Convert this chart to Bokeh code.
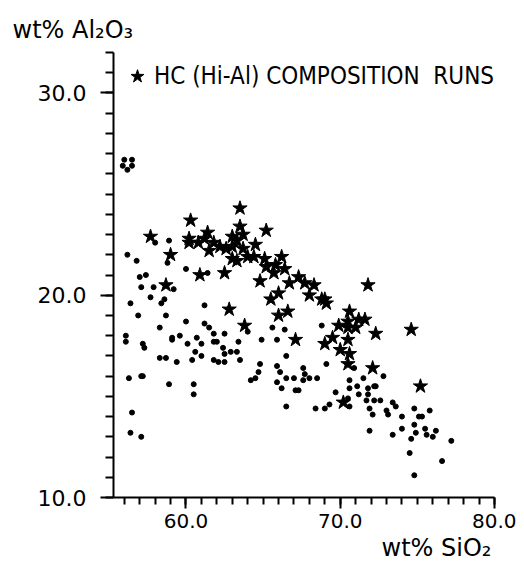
from bokeh.plotting import figure
from bokeh.models import FixedTicker, Range1d, Legend, LegendItem, Title
from bokeh.embed import file_html
from bokeh.resources import INLINE

# ---- data ----
hc_sio2 = [63.5, 60.3, 57.7, 63.5, 63.7, 65.2, 61.4, 60.2, 60.2, 60.8, 61.2, 61.8, 61.5, 62.2,
           62.6, 63.0, 63.0, 63.3, 63.7, 64.5, 59.0, 63.0, 63.3, 64.0, 64.4, 65.1, 66.2, 65.2,
           65.8, 66.4, 65.7, 58.7, 60.9, 62.5, 64.8, 66.7, 67.3, 67.7, 66.0, 65.5, 62.8, 66.6,
           66.0, 63.8, 67.1, 68.3, 71.8, 68.0, 68.8, 69.0, 69.1, 70.6, 69.9, 70.5, 71.2, 71.6,
           70.5, 71.0, 74.6, 72.3, 69.5, 69.0, 70.5, 70.0, 70.6, 70.5, 72.1, 75.2, 70.2]
hc_al2o3 = [24.3, 23.7, 22.9, 23.4, 23.0, 23.2, 23.1, 22.8, 22.6, 22.6, 22.8, 22.6, 22.2, 22.4,
            22.3, 22.4, 22.9, 22.7, 22.3, 22.5, 22.0, 21.8, 21.7, 21.9, 21.9, 21.8, 21.9, 21.4,
            21.5, 21.3, 21.1, 20.5, 21.0, 21.1, 20.7, 20.6, 20.9, 20.6, 20.1, 19.8, 19.3, 19.2,
            19.0, 18.5, 17.8, 20.5, 20.5, 20.0, 19.8, 19.8, 19.6, 19.2, 18.5, 18.7, 18.8, 18.8,
            18.4, 18.4, 18.3, 18.1, 17.9, 17.6, 17.8, 17.3, 17.1, 16.6, 16.4, 15.5, 14.7]

other_sio2 = [56.0, 56.5, 55.9, 56.2, 56.5, 58.0, 58.9, 56.2, 56.8, 58.8, 60.0, 61.4, 57.0, 57.4,
              57.1, 57.9, 59.2, 57.7, 58.6, 58.4, 56.4, 61.2, 56.9, 58.7, 60.0, 61.2, 58.3, 61.5,
              64.0, 61.8, 62.5, 65.6, 66.4, 56.1, 56.1, 59.1, 59.1, 59.6, 60.7, 57.2, 57.3, 60.1,
              61.0, 61.8, 62.0, 62.4, 63.4, 64.9, 65.9, 60.6, 61.0, 60.4, 58.3, 58.7, 59.4, 62.5,
              62.9, 63.3, 61.8, 62.1, 62.5, 63.5, 66.5, 64.8, 64.7, 65.9, 66.1, 56.3, 57.1, 57.2,
              64.2, 64.5, 66.5, 67.0, 67.6, 67.7, 65.9, 66.2, 67.1, 67.3, 67.6, 58.9, 60.5, 60.5,
              66.5, 56.5, 56.4, 57.1, 68.8, 69.1, 68.0, 68.5, 70.9, 72.8, 71.5, 70.6, 71.1, 71.8,
              72.2, 72.3, 69.7, 70.6, 71.2, 71.8, 70.5, 70.6, 69.3, 68.4, 69.0, 71.7, 72.2, 72.6,
              71.9, 72.1, 73.4, 73.6, 73.0, 73.1, 74.0, 74.8, 75.8, 75.1, 75.3, 74.8, 74.0, 75.5,
              76.2, 74.9, 75.6, 76.0, 74.6, 73.4, 71.9, 77.2, 74.5, 76.6, 74.8]
other_al2o3 = [26.7, 26.7, 26.4, 26.2, 26.4, 22.6, 22.7, 22.0, 21.7, 21.6, 21.3, 21.1, 20.9, 21.0,
               20.4, 20.4, 20.3, 19.9, 19.8, 19.6, 19.6, 19.5, 19.0, 19.0, 18.7, 18.6, 18.4, 18.4,
               18.2, 18.1, 18.1, 18.4, 18.3, 18.0, 17.7, 17.9, 17.8, 18.0, 17.9, 17.6, 17.4, 17.6,
               17.6, 17.7, 17.7, 17.4, 17.7, 17.8, 17.8, 17.2, 17.0, 16.8, 16.9, 16.9, 16.7, 17.1,
               17.2, 17.2, 16.8, 16.7, 16.7, 16.8, 17.0, 16.6, 16.2, 16.5, 16.2, 15.9, 16.0, 16.0,
               15.8, 15.9, 15.9, 15.9, 16.4, 16.1, 15.7, 15.4, 15.3, 15.3, 15.8, 15.6, 15.6, 15.1,
               14.5, 14.2, 13.2, 13.0, 18.5, 16.6, 15.9, 15.9, 16.4, 16.0, 15.9, 15.8, 15.5, 15.4,
               15.5, 15.5, 15.2, 15.4, 15.1, 15.1, 14.9, 14.5, 14.6, 14.4, 14.4, 14.8, 14.8, 14.8,
               14.4, 14.1, 14.7, 14.5, 14.3, 14.1, 14.0, 14.4, 14.3, 14.0, 14.0, 13.6, 13.4, 13.4,
               13.3, 13.2, 13.1, 13.0, 12.9, 13.1, 13.3, 12.8, 12.2, 11.8, 11.1]

x_major = [60, 70, 80]
x_major_labels = ["60.0", "70.0", "80.0"]
y_major = [10, 20, 30]
y_major_labels = ["10.0", "20.0", "30.0"]
x_minor = list(range(56, 81))
y_minor = list(range(10, 33))

legend_text = "HC (Hi-Al) COMPOSITION  RUNS"
x_title = "wt% SiO\u2082"
y_title = "wt% Al\u2082O\u2083"

# ---- layout ----
X0, X1 = 55.3, 80.0
Y0, Y1 = 10.0, 32.0
W, H = 516, 571
BL, BR, BT, BB = 113, 22, 52, 74

FONT = "DejaVu Sans"

p = figure(width=W, height=H, output_backend="svg", toolbar_location=None,
           x_range=Range1d(X0, X1), y_range=Range1d(Y0, Y1),
           min_border_left=BL, min_border_right=BR, min_border_top=BT, min_border_bottom=BB)
p.outline_line_color = None
p.grid.visible = False
p.background_fill_color = "white"
p.border_fill_color = "white"

for ax in (p.xaxis[0], p.yaxis[0]):
    ax.axis_line_width = 2
    ax.axis_line_color = "black"
    ax.major_tick_line_width = 2
    ax.minor_tick_line_width = 2
    ax.major_tick_line_color = "black"
    ax.minor_tick_line_color = "black"
    ax.major_tick_in = 0
    ax.minor_tick_in = 0
    ax.major_label_text_font = FONT
    ax.major_label_text_color = "black"

p.xaxis.ticker = FixedTicker(ticks=x_major, minor_ticks=x_minor)
p.yaxis.ticker = FixedTicker(ticks=y_major, minor_ticks=y_minor)
p.xaxis.major_label_overrides = {t: l for t, l in zip(x_major, x_major_labels)}
p.yaxis.major_label_overrides = {t: l for t, l in zip(y_major, y_major_labels)}
p.xaxis.major_label_text_font_size = "20px"
p.yaxis.major_label_text_font_size = "22px"
p.xaxis.major_tick_out = 11
p.xaxis.minor_tick_out = 7
p.xaxis.major_label_standoff = 5
p.yaxis.major_tick_out = 13
p.yaxis.minor_tick_out = 8
p.yaxis.major_label_standoff = 14

dots = p.scatter(other_sio2, other_al2o3, marker="circle", size=5,
                 fill_color="black", line_color="black")
stars = p.scatter(hc_sio2, hc_al2o3, marker="star", size=15,
                  fill_color="black", line_color="black")

legend = Legend(items=[LegendItem(label=legend_text, renderers=[stars])],
                location="top_left", margin=7, padding=0,
                glyph_width=34, glyph_height=34, label_standoff=0,
                label_text_font="'DejaVu Sans Condensed', 'Liberation Sans'",
                label_text_font_size="24px",
                label_text_color="black",
                border_line_color=None, background_fill_alpha=0)
p.add_layout(legend)

# y-axis title at the top-left
p.title.text = y_title
p.title.align = "left"
p.title.offset = -101
p.title.standoff = 18
p.title.text_font = FONT
p.title.text_font_size = "24px"
p.title.text_font_style = "normal"
p.title.text_color = "black"

# x-axis title at the bottom-right
p.add_layout(Title(text=x_title, align="left", offset=268, standoff=2,
                   text_font=FONT, text_font_size="24px", text_font_style="normal",
                   text_color="black"), "below")

open("out.html", "w").write(file_html(p, INLINE))
